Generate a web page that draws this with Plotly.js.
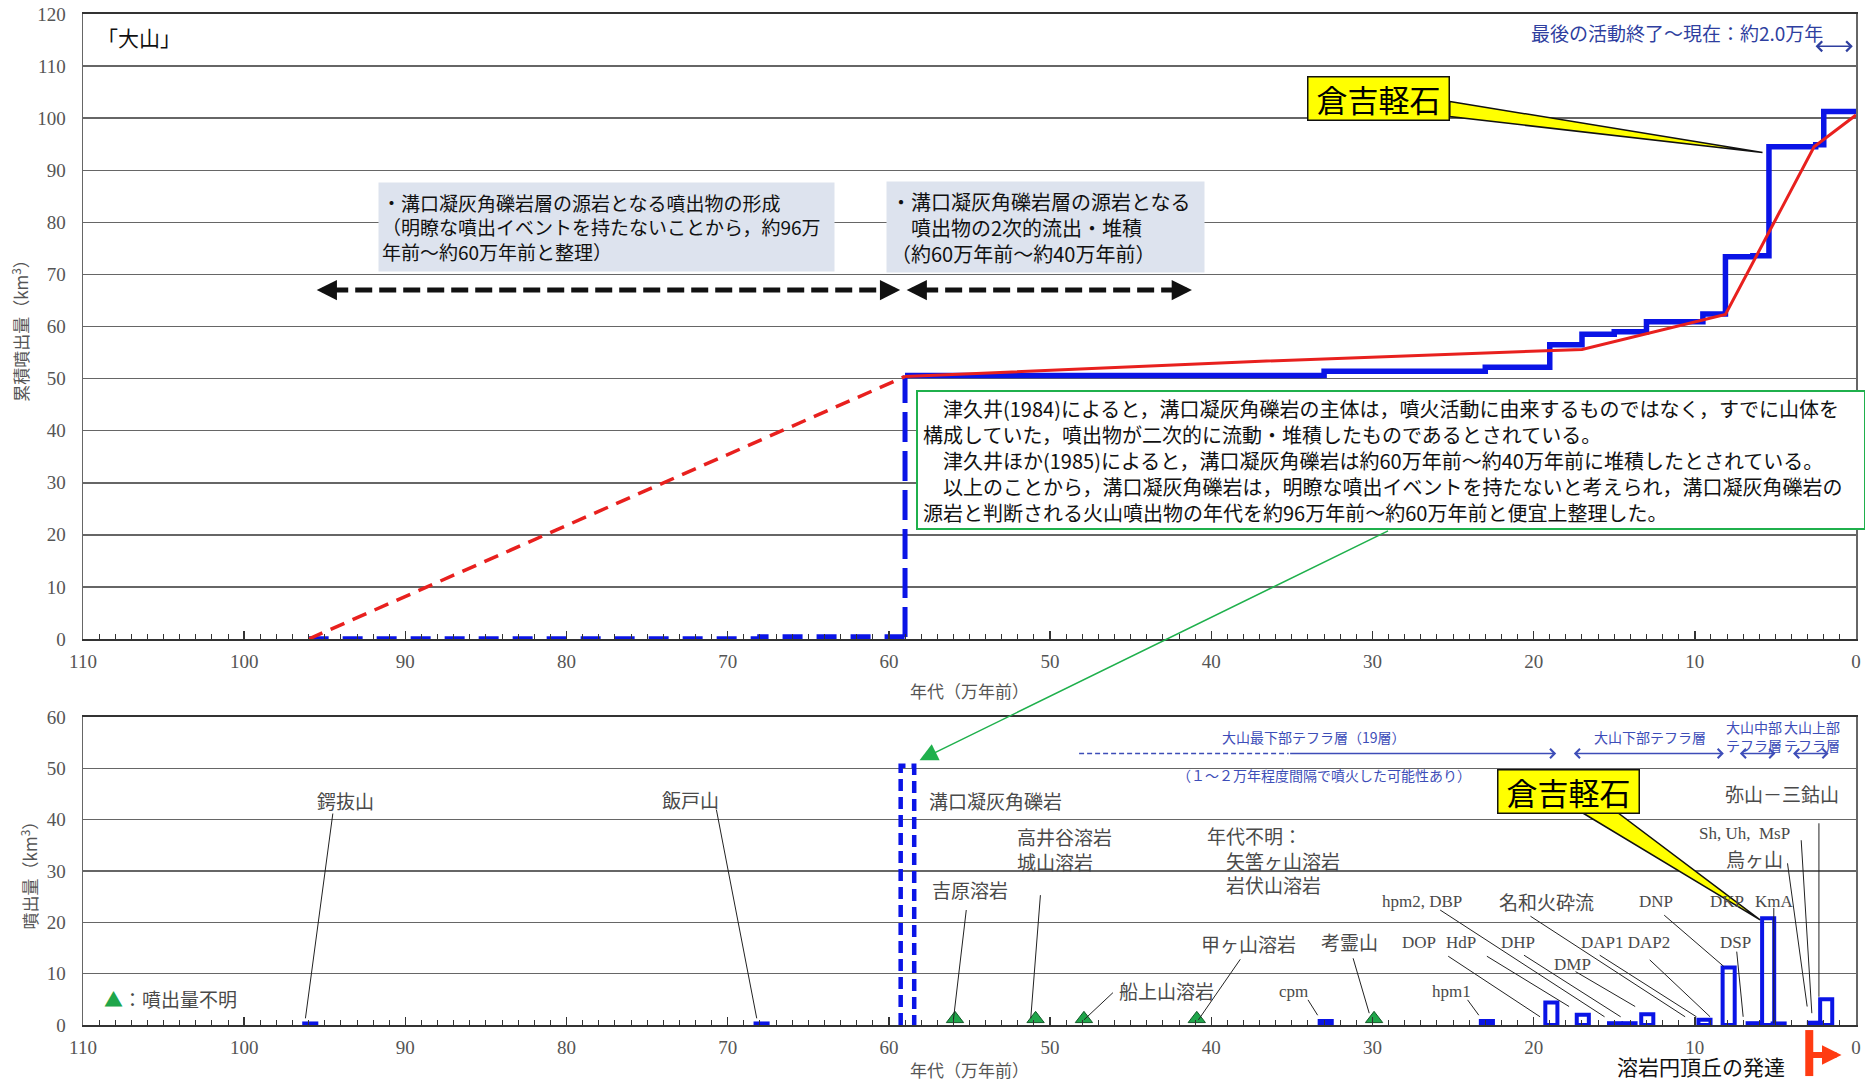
<!DOCTYPE html>
<html>
<head>
<meta charset="utf-8">
<script src="https://cdn.plot.ly/plotly-3.0.1.min.js"></script>
<style>
  html, body { margin: 0; padding: 0; background: #fff; }
  #chart { width: 1865px; height: 1082px; }
</style>
</head>
<body>
<div id="chart"></div>
<script>
// ages in 万年前 (10^4 years ago), volumes in km3

// upper chart: cumulative eruption volume
const stepAges = [59, 33, 23, 19, 17, 15, 13, 9.5, 8.1, 6.4, 5.4, 2.5, 2, 0];
const stepVolume = [50.6, 51.4, 52.2, 56.5, 58.5, 59.0, 60.9, 62.4, 73.4, 73.6, 94.5, 94.9, 101.3, 101.3];
const earlyAges = [96, 68, 59];
const earlyVolume = [0, 0.4, 50.6];
const trendAges = [59, 38, 17, 13, 8.1, 2.6, 0];
const trendVolume = [50.4, 53.2, 55.6, 58.6, 62.3, 94.5, 100.6];
const trendEarlyAges = [96, 59];
const trendEarlyVolume = [0, 50.4];

// lower chart: volume of each eruption
const eventAges = [95.9, 67.9, 32.9, 22.9, 18.9, 16.95, 14.95, 14.05, 12.95, 9.4, 7.9, 6.35, 5.45, 4.8, 2.55, 1.85];
const eventVolume = [0.3, 0.3, 0.8, 0.8, 4.4, 2.0, 0.35, 0.35, 2.1, 1.0, 11.2, 0.35, 20.8, 0.3, 0.45, 5.0];
const mizoguchiAge = 58.85;
const mizoguchiVolume = 50.5;
const unknownAges = [55.9, 50.9, 47.9, 40.9, 29.9];

const xTickVals = [110, 100, 90, 80, 70, 60, 50, 40, 30, 20, 10, 0];

const BLUE = '#0a14e6';
const RED = '#e8201e';
const GREEN = '#1fa64a';
const TEPHRA = '#3d4db8';
const JP = '"Noto Sans CJK JP", sans-serif';
const SERIF = '"Liberation Serif", "Noto Sans CJK JP", serif';
const barWidth = 0.75;

const lastEarly = earlyAges.length - 1;

const traces = [
    // upper: blue cumulative, dashed part before 59万年前
    {x: earlyAges, y: earlyVolume.slice(0, lastEarly).concat([earlyVolume[lastEarly - 1]]), xaxis: 'x', yaxis: 'y',
     mode: 'lines', line: {shape: 'hv', color: BLUE, width: 5.5, dash: '20px,14px'}, cliponaxis: false},
    {x: [earlyAges[lastEarly], earlyAges[lastEarly]], y: [earlyVolume[lastEarly - 1], earlyVolume[lastEarly]], xaxis: 'x', yaxis: 'y',
     mode: 'lines', line: {color: BLUE, width: 5, dash: '30px,9px'}, cliponaxis: false},
    // upper: blue cumulative steps
    {x: stepAges, y: stepVolume, xaxis: 'x', yaxis: 'y', mode: 'lines', line: {shape: 'hv', color: BLUE, width: 5.5}, cliponaxis: false},
    // upper: red trend
    {x: trendEarlyAges, y: trendEarlyVolume, xaxis: 'x', yaxis: 'y', mode: 'lines', line: {color: RED, width: 3.5, dash: '15px,9px'}},
    {x: trendAges, y: trendVolume, xaxis: 'x', yaxis: 'y', mode: 'lines', line: {color: RED, width: 3}, cliponaxis: false},
    // lower: eruption bars
    {type: 'bar', x: eventAges, y: eventVolume, width: barWidth, xaxis: 'x2', yaxis: 'y2',
     marker: {color: 'rgba(255,255,255,0)', line: {color: BLUE, width: 4}}, cliponaxis: false},
    // lower: 溝口凝灰角礫岩 (dashed)
    {x: [mizoguchiAge + 0.42, mizoguchiAge + 0.42, mizoguchiAge - 0.42, mizoguchiAge - 0.42],
     y: [0, mizoguchiVolume, mizoguchiVolume, 0], xaxis: 'x2', yaxis: 'y2', mode: 'lines',
     line: {color: BLUE, width: 4.5, dash: '12px,6px'}, cliponaxis: false},
    // lower: volume unknown
    {x: unknownAges, y: unknownAges.map(() => 1.2), xaxis: 'x2', yaxis: 'y2', mode: 'markers',
     marker: {symbol: 'triangle-up', size: 15, color: GREEN, line: {color: '#145a2a', width: 1}}, cliponaxis: false}
];

const xAxisBase = {
    range: [110, 0], tickvals: xTickVals, showline: true, linecolor: '#333', linewidth: 2, mirror: true,
    ticks: 'inside', ticklen: 8, tickwidth: 1.5, tickcolor: '#333',
    minor: {dtick: 1, ticks: 'inside', ticklen: 5, tickwidth: 1, tickcolor: '#333'},
    tickfont: {family: SERIF, size: 19, color: '#555'}, ticklabelstandoff: 4,
    showgrid: false, zeroline: false, fixedrange: true
};
const yAxisBase = {
    showline: true, linecolor: '#666', linewidth: 1.5, mirror: true, ticks: '', dtick: 10,
    showgrid: true, gridcolor: '#666', gridwidth: 1.5, zeroline: false,
    tickfont: {family: SERIF, size: 19, color: '#555'}, ticklabelstandoff: 12, fixedrange: true
};
const axisTitleFont = {family: JP, size: 17, color: '#555'};

const shapes = [];
const annotations = [];

// ---- upper chart annotations ----
annotations.push({xref: 'x', yref: 'y', x: 106.5, y: 115.6, text: '「大山」', showarrow: false,
    font: {family: JP, size: 21, color: '#111'}});
annotations.push({xref: 'x', yref: 'y', x: 1.9, y: 116.4, xanchor: 'right', text: '最後の活動終了～現在：約2.0万年',
    showarrow: false, font: {family: JP, size: 19, color: '#2f3f9f'}});
annotations.push({xref: 'x', yref: 'y', axref: 'x', ayref: 'y', x: 0.2, y: 113.8, ax: 2.6, ay: 113.8, text: '',
    showarrow: true, arrowside: 'end+start', arrowhead: 4, arrowwidth: 1.5, arrowsize: 1.3, arrowcolor: '#2f3f9f'});

annotations.push({xref: 'x', yref: 'y', x: 77.5, y: 79.15, width: 449, height: 82, borderpad: 3, align: 'left',
    bgcolor: '#dde3ee', showarrow: false, font: {family: JP, size: 19, color: '#111'},
    text: '・溝口凝灰角礫岩層の源岩となる噴出物の形成<br>（明瞭な噴出イベントを持たないことから，約96万<br>年前～約60万年前と整理）'});
annotations.push({xref: 'x', yref: 'y', x: 50.3, y: 79.15, width: 309, height: 82, borderpad: 4, align: 'left',
    bgcolor: '#dde3ee', showarrow: false, font: {family: JP, size: 20, color: '#111'},
    text: '・溝口凝灰角礫岩層の源岩となる<br>　噴出物の2次的流出・堆積<br>（約60万年前～約40万年前）'});

// black dashed period arrows
shapes.push({type: 'line', xref: 'x', yref: 'y', x0: 94.6, x1: 60.2, y0: 67, y1: 67, line: {color: '#111', width: 5, dash: '17px,7px'}});
shapes.push({type: 'line', xref: 'x', yref: 'y', x0: 58.0, x1: 42.1, y0: 67, y1: 67, line: {color: '#111', width: 5, dash: '17px,7px'}});
[[95.5, 94.4], [59.3, 60.4], [58.9, 57.8], [41.2, 42.3]].forEach(p => {
    annotations.push({xref: 'x', yref: 'y', axref: 'x', ayref: 'y', x: p[0], y: 67, ax: p[1], ay: 67, text: '',
        showarrow: true, arrowhead: 2, arrowwidth: 4.5, arrowsize: 0.9, arrowcolor: '#111'});
});

// 倉吉軽石 callout (upper)
shapes.push({type: 'path', xref: 'x', yref: 'y', path: 'M 25.2,103.2 L 5.8,93.4 L 25.2,100.3 Z',
    fillcolor: '#ffff00', line: {color: '#111', width: 1.5}});
annotations.push({xref: 'x', yref: 'y', x: 29.6, y: 103.8, width: 136, height: 38, borderpad: 2, borderwidth: 1.5,
    bordercolor: '#111', bgcolor: '#ffff00', showarrow: false, text: '倉吉軽石', font: {family: JP, size: 31, color: '#000'}});

// green note box
annotations.push({xref: 'x', yref: 'y', x: 58.31, y: 47.75, xanchor: 'left', yanchor: 'top', width: 936, height: 126,
    borderpad: 5, borderwidth: 2, bordercolor: '#1fb04c', bgcolor: '#fff', align: 'left', showarrow: false,
    font: {family: JP, size: 20, color: '#111'},
    text: '　津久井(1984)によると，溝口凝灰角礫岩の主体は，噴火活動に由来するものではなく，すでに山体を<br>' +
          '構成していた，噴出物が二次的に流動・堆積したものであるとされている。<br>' +
          '　津久井ほか(1985)によると，溝口凝灰角礫岩は約60万年前～約40万年前に堆積したとされている。<br>' +
          '　以上のことから，溝口凝灰角礫岩は，明瞭な噴出イベントを持たないと考えられ，溝口凝灰角礫岩の<br>' +
          '源岩と判断される火山噴出物の年代を約96万年前～約60万年前と便宜上整理した。'});
annotations.push({xref: 'x2', yref: 'y2', x: 58.1, y: 51.6, ax: 470, ay: -230, text: '', showarrow: true,
    arrowhead: 2, arrowwidth: 1.5, arrowsize: 2.4, arrowcolor: '#1fb04c'});

// ---- lower chart annotations ----
const lblJP = {family: JP, size: 19, color: '#4a4a4a'};
const lblEN = {family: SERIF, size: 17, color: '#4a4a4a'};
function label(text, x, y, font, extra) {
    annotations.push(Object.assign({xref: 'x2', yref: 'y2', x: x, y: y, text: text, showarrow: false, font: font}, extra || {}));
}
label('鍔抜山', 93.7, 43.8, lblJP);
label('飯戸山', 72.3, 44.0, lblJP);
label('溝口凝灰角礫岩', 53.4, 43.8, lblJP);
label('高井谷溶岩<br>城山溶岩', 52.2, 34.2, lblJP, {xanchor: 'left', align: 'left'});
label('吉原溶岩', 55.0, 26.4, lblJP);
label('年代不明：<br>　矢筈ヶ山溶岩<br>　岩伏山溶岩', 40.4, 32.1, lblJP, {xanchor: 'left', align: 'left'});
label('甲ヶ山溶岩', 37.7, 15.9, lblJP);
label('船上山溶岩', 42.8, 6.8, lblJP);
label('考霊山', 31.4, 16.2, lblJP);
label('cpm', 34.9, 6.5, lblEN);
label('hpm1', 25.1, 6.5, lblEN);
label('DOP', 27.1, 16.0, lblEN);
label('HdP', 24.5, 16.0, lblEN);
label('DHP', 21.0, 16.0, lblEN);
label('DMP', 17.6, 11.7, lblEN);
label('DAP1 DAP2', 14.3, 16.0, lblEN);
label('hpm2, DBP', 26.9, 24.0, lblEN);
label('名和火砕流', 19.2, 24.0, lblJP);
label('DNP', 12.4, 24.1, lblEN);
label('DKP', 8.0, 24.1, lblEN);
label('KmA', 5.07, 24.1, lblEN);
label('DSP', 7.5, 16.0, lblEN);
label('Sh, Uh,  MsP', 6.9, 37.3, lblEN);
label('烏ヶ山', 6.3, 32.5, lblJP);
label('弥山－三鈷山', 4.6, 45.1, lblJP);

const leaders = [
    [94.5, 41.2, 96.2, 1.3], [70.7, 41.9, 68.2, 1.3], [55.2, 22.4, 56.0, 1.0], [50.6, 25.3, 51.2, 1.3],
    [46.1, 6.3, 47.9, 1.0], [38.2, 12.8, 40.8, 1.0], [34.0, 4.9, 33.4, 1.9], [31.2, 13.0, 30.2, 2.3],
    [24.1, 4.9, 23.4, 1.9], [25.3, 13.4, 19.6, 1.6], [22.9, 13.4, 17.8, 3.6], [25.8, 22.4, 15.6, 1.6],
    [20.6, 13.6, 14.6, 1.6], [20.2, 21.2, 10.6, 1.6], [17.4, 10.4, 13.7, 3.6], [15.9, 13.6, 9.9, 1.6],
    [12.8, 12.7, 9.05, 1.6], [11.9, 21.4, 8.2, 11.4], [7.4, 14.3, 7.0, 1.6], [5.1, 22.8, 5.1, 0.3],
    [4.25, 31.5, 3.03, 3.6], [3.4, 36.0, 2.74, 2.3], [2.3, 39.3, 2.3, 5.5]
];
leaders.forEach(l => shapes.push({type: 'line', xref: 'x2', yref: 'y2', x0: l[0], y0: l[1], x1: l[2], y1: l[3],
    line: {color: '#222', width: 1}}));

// tephra layers
const tephraFont = {family: JP, size: 14, color: TEPHRA};
label('大山最下部テフラ層（19層）', 33.6, 56.2, tephraFont);
label('（１～２万年程度間隔で噴火した可能性あり）', 33.0, 48.7, tephraFont);
label('大山下部テフラ層', 12.75, 56.2, tephraFont);
label('大山中部<br>テフラ層', 6.3, 56.3, tephraFont);
label('大山上部<br>テフラ層', 2.7, 56.3, tephraFont);
shapes.push({type: 'line', xref: 'x2', yref: 'y2', x0: 48.2, x1: 35.2, y0: 52.9, y1: 52.9, line: {color: TEPHRA, width: 1.5, dash: '5px,3px'}});
[[18.6, 35.2, 'end'], [8.2, 17.6, 'end+start'], [5.0, 7.3, 'end+start'], [1.7, 4.0, 'end+start']].forEach(a => {
    annotations.push({xref: 'x2', yref: 'y2', axref: 'x2', ayref: 'y2', x: a[0], y: 52.9, ax: a[1], ay: 52.9, text: '',
        showarrow: true, arrowside: a[2], arrowhead: 4, arrowwidth: 1.3, arrowsize: 1.4, arrowcolor: TEPHRA});
});

// 倉吉軽石 callout (lower)
shapes.push({type: 'path', xref: 'x2', yref: 'y2', path: 'M 17.0,41.4 L 5.95,20.5 L 14.8,41.4 Z',
    fillcolor: '#ffff00', line: {color: '#111', width: 1.5}});
annotations.push({xref: 'x2', yref: 'y2', x: 17.85, y: 45.5, width: 136, height: 38, borderpad: 2, borderwidth: 1.5,
    bordercolor: '#111', bgcolor: '#ffff00', showarrow: false, text: '倉吉軽石', font: {family: JP, size: 31, color: '#000'}});

label('<span style="color:' + GREEN + '">▲</span>：噴出量不明', 108.8, 5.2, lblJP, {xanchor: 'left'});

// 溶岩円頂丘の発達
annotations.push({xref: 'x2', yref: 'paper', x: 9.6, y: -0.0405, xanchor: 'center', yanchor: 'middle',
    text: '溶岩円頂丘の発達', showarrow: false, font: {family: JP, size: 21, color: '#111'}});
shapes.push({type: 'line', xref: 'x2', yref: 'paper', x0: 2.9, x1: 2.9, y0: -0.005, y1: -0.0505,
    line: {color: '#ff3b12', width: 8}});
annotations.push({xref: 'x2', yref: 'paper', x: 0.9, y: -0.0297, ax: -30, ay: 0, text: '', showarrow: true,
    arrowhead: 2, arrowwidth: 6, arrowsize: 0.65, arrowcolor: '#ff3b12'});

const layout = {
    width: 1865, height: 1082,
    margin: {l: 83, r: 9, t: 14, b: 57},
    paper_bgcolor: '#fff', plot_bgcolor: '#fff',
    showlegend: false, bargap: 0,
    font: {family: JP, color: '#444'},
    xaxis: Object.assign({}, xAxisBase, {domain: [0, 1], anchor: 'y',
        title: {text: '年代（万年前）', font: axisTitleFont, standoff: 15}}),
    yaxis: Object.assign({}, yAxisBase, {domain: [0.3818, 1], anchor: 'x', range: [0, 120],
        title: {text: '累積噴出量（km<sup>3</sup>）', font: axisTitleFont, standoff: 4}}),
    xaxis2: Object.assign({}, xAxisBase, {domain: [0, 1], anchor: 'y2',
        title: {text: '年代（万年前）', font: axisTitleFont, standoff: 9}}),
    yaxis2: Object.assign({}, yAxisBase, {domain: [0, 0.3046], anchor: 'x2', range: [0, 60],
        title: {text: '噴出量（km<sup>3</sup>）', font: axisTitleFont, standoff: 4}}),
    shapes: shapes,
    annotations: annotations
};

Plotly.newPlot('chart', traces, layout, {staticPlot: true});
</script>
</body>
</html>
